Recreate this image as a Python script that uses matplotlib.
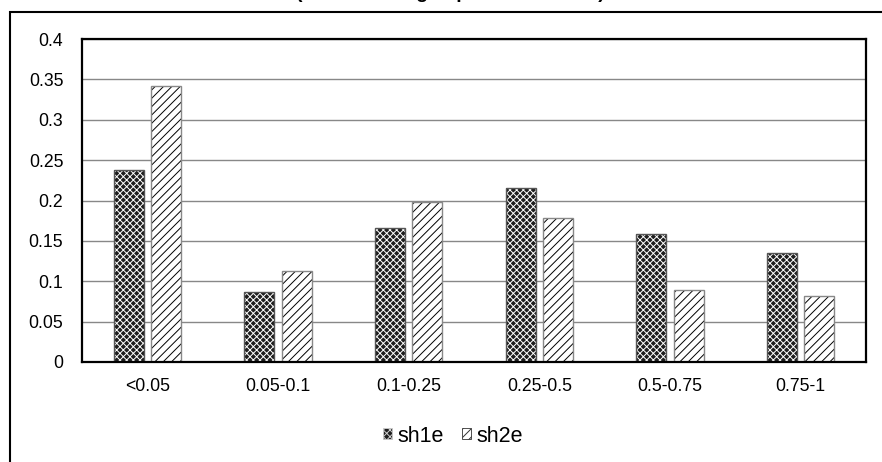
import matplotlib
matplotlib.use("Agg")
import matplotlib.pyplot as plt
from matplotlib.patches import Rectangle, Patch
import numpy as np

plt.rcParams['font.family'] = ['Liberation Sans', 'DejaVu Sans']
plt.rcParams['hatch.linewidth'] = 0.7

categories = ["<0.05", "0.05-0.1", "0.1-0.25", "0.25-0.5", "0.5-0.75", "0.75-1"]
sh1e = [0.238, 0.087, 0.166, 0.215, 0.158, 0.135]
sh2e = [0.342, 0.113, 0.198, 0.178, 0.089, 0.082]
series_names = ["sh1e", "sh2e"]
yticks = [0, 0.05, 0.1, 0.15, 0.2, 0.25, 0.3, 0.35, 0.4]
ytick_labels = ["0", "0.05", "0.1", "0.15", "0.2", "0.25", "0.3", "0.35", "0.4"]
title = "(Rate of rating in p-value sh bins)"

W, H = 882, 462
FS = 12.7
fig = plt.figure(figsize=(W / 100, H / 100), dpi=100)
ax = fig.add_axes([82 / W, 1 - 362 / H, (866 - 82) / W, (362 - 39) / H])

x = np.arange(len(categories))
bw = 0.23
off = 0.142
# sh1e: dark checker-like fill
ax.bar(x - off, sh1e, bw, facecolor="#1e1e1e", edgecolor="white", hatch="xxxxx",
       linewidth=0, zorder=3)
ax.bar(x - off, sh1e, bw, facecolor="none", edgecolor="#555555", linewidth=1.0, zorder=4)
# sh2e: black diagonal lines on white
ax.bar(x + off, sh2e, bw, facecolor="white", edgecolor="black", hatch="////",
       linewidth=0, zorder=3)
ax.bar(x + off, sh2e, bw, facecolor="none", edgecolor="#888888", linewidth=1.0, zorder=4)

ax.set_xlim(-0.5, len(categories) - 0.5)
ax.set_ylim(0, 0.4)
ax.set_yticks(yticks)
ax.set_yticklabels(ytick_labels)
ax.set_xticks(x)
ax.set_xticklabels(categories)
ax.tick_params(axis='both', length=0, labelsize=FS)
ax.tick_params(axis='y', pad=13.5)
ax.tick_params(axis='x', pad=11.5)
ax.yaxis.grid(True, color="#888888", linewidth=1, zorder=0)
ax.set_axisbelow(True)
for s in ax.spines.values():
    s.set_linewidth(1.6)
    s.set_color("black")
    s.set_zorder(5)

handles = [Patch(facecolor="#1e1e1e", edgecolor="#cccccc", hatch="xxxxx", linewidth=0.6),
           Patch(facecolor="white", edgecolor="#333333", hatch="////", linewidth=0.6)]
fig.legend(handles, series_names, loc="center", bbox_to_anchor=(453 / W, 1 - 436 / H),
           ncol=2, frameon=False, fontsize=15.5, handlelength=0.42, handleheight=0.42,
           handletextpad=0.28, columnspacing=0.8)

# outer chart border
fig.add_artist(Rectangle((10 / W, -0.1), 1.2, 1 - 12 / H + 0.1, transform=fig.transFigure,
                         fill=False, edgecolor="black", linewidth=1.5, clip_on=False))

fig.text(450 / W, 1 + 2.5 / H, title, ha="center", va="baseline", fontsize=14,
         fontweight="bold")

fig.savefig("out.png", dpi=100)
